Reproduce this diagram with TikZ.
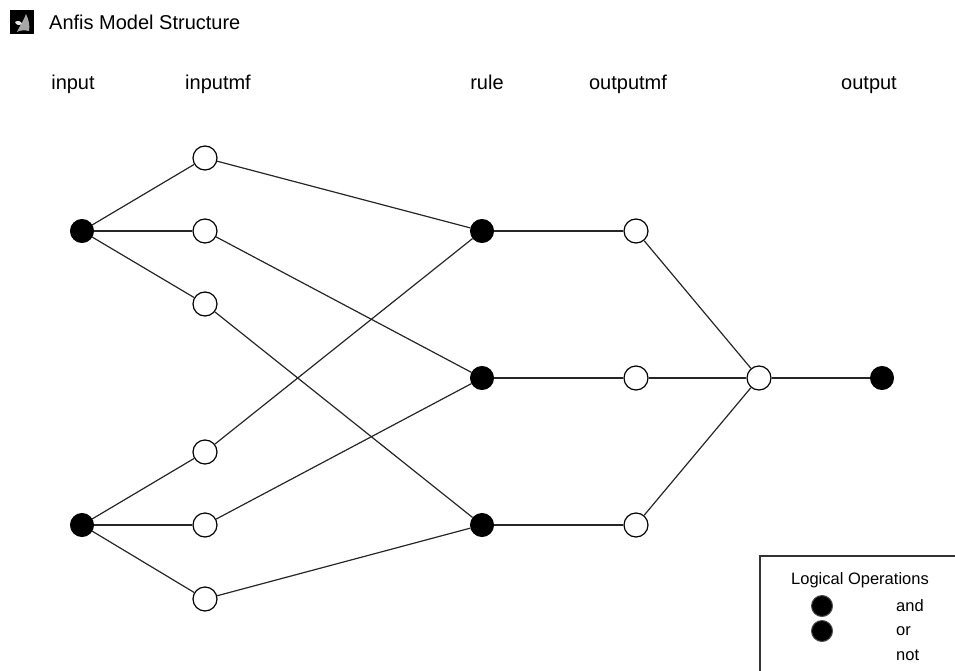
\documentclass[tikz,border=0pt]{standalone}
\usepackage{fontspec}
\setmainfont{Liberation Sans}
\begin{document}
\begin{tikzpicture}[x=1pt,y=-1pt,
  blk/.style={circle,fill=black,draw=black,line width=1pt,minimum size=23pt,inner sep=0pt},
  wht/.style={circle,fill=white,draw=black,line width=1.2pt,minimum size=24pt,inner sep=0pt},
  conn/.style={line width=1.2pt,draw=black!85},
  lab/.style={font=\fontsize{20}{22}\selectfont,anchor=base},
  leg/.style={font=\fontsize{16.5}{18}\selectfont}
]
\useasboundingbox (0,0) rectangle (955,671);
% icon and title
\fill[black] (10,10) rectangle (34,34);
\fill[gray!70] (26,14) .. controls (29,20) and (30,26) .. (29,31) .. controls (25,30) and (20,30) .. (17,32) .. controls (19,27) and (23,22) .. (26,14) -- cycle;
\fill[white!80!gray] (15,22) .. controls (18,20) and (21,21) .. (22,24) .. controls (19,26) and (16,25) .. (15,22) -- cycle;
\node[anchor=base west,font=\fontsize{20}{22}\selectfont,inner sep=0pt] (title) at (49,30) {Anfis Model Structure};
% column labels
\node[lab] (l1) at (73,90) {input};
\node[lab] (l2) at (218,90) {inputmf};
\node[lab] (l3) at (487,90) {rule};
\node[lab] (l4) at (628,90) {outputmf};
\node[lab] (l5) at (869,90) {output};
% nodes
\node[blk] (in1) at (82,231) {};
\node[blk] (in2) at (82,525) {};
\node[wht] (m1) at (205,158) {};
\node[wht] (m2) at (205,231) {};
\node[wht] (m3) at (205,304) {};
\node[wht] (m4) at (205,452) {};
\node[wht] (m5) at (205,525) {};
\node[wht] (m6) at (205,599) {};
\node[blk] (r1) at (482,231) {};
\node[blk] (r2) at (482,378) {};
\node[blk] (r3) at (482,525) {};
\node[wht] (o1) at (636,231) {};
\node[wht] (o2) at (636,378) {};
\node[wht] (o3) at (636,525) {};
\node[wht] (s) at (759,378) {};
\node[blk] (out) at (882,378) {};
% connectors
\begin{scope}[on background layer/.style={}]
\draw[conn] (in1) -- (m1);
\draw[conn] (in1) -- (m2);
\draw[conn] (in1) -- (m3);
\draw[conn] (in2) -- (m4);
\draw[conn] (in2) -- (m5);
\draw[conn] (in2) -- (m6);
\draw[conn] (m1) -- (r1);
\draw[conn] (m2) -- (r2);
\draw[conn] (m3) -- (r3);
\draw[conn] (m4) -- (r1);
\draw[conn] (m5) -- (r2);
\draw[conn] (m6) -- (r3);
\draw[conn] (r1) -- (o1);
\draw[conn] (r2) -- (o2);
\draw[conn] (r3) -- (o3);
\draw[conn] (o1) -- (s);
\draw[conn] (o2) -- (s);
\draw[conn] (o3) -- (s);
\draw[conn] (s) -- (out);
\end{scope}
% legend
\draw[line width=1.5pt,draw=black!80] (965,556) -- (760,556) -- (760,680);
\node[leg] (lt) at (860,580) {Logical Operations};
\node[circle,fill=black,draw=black!70,line width=1pt,minimum size=21pt,inner sep=0pt] (d1) at (822,606) {};
\node[circle,fill=black,draw=black!70,line width=1pt,minimum size=21pt,inner sep=0pt] (d2) at (822,631) {};
\node[leg,anchor=west,inner sep=0pt] (t1) at (896,606) {and};
\node[leg,anchor=west,inner sep=0pt] (t2) at (896,631) {or};
\node[leg,anchor=west,inner sep=0pt] (t3) at (896,655) {not};
\end{tikzpicture}
\end{document}
